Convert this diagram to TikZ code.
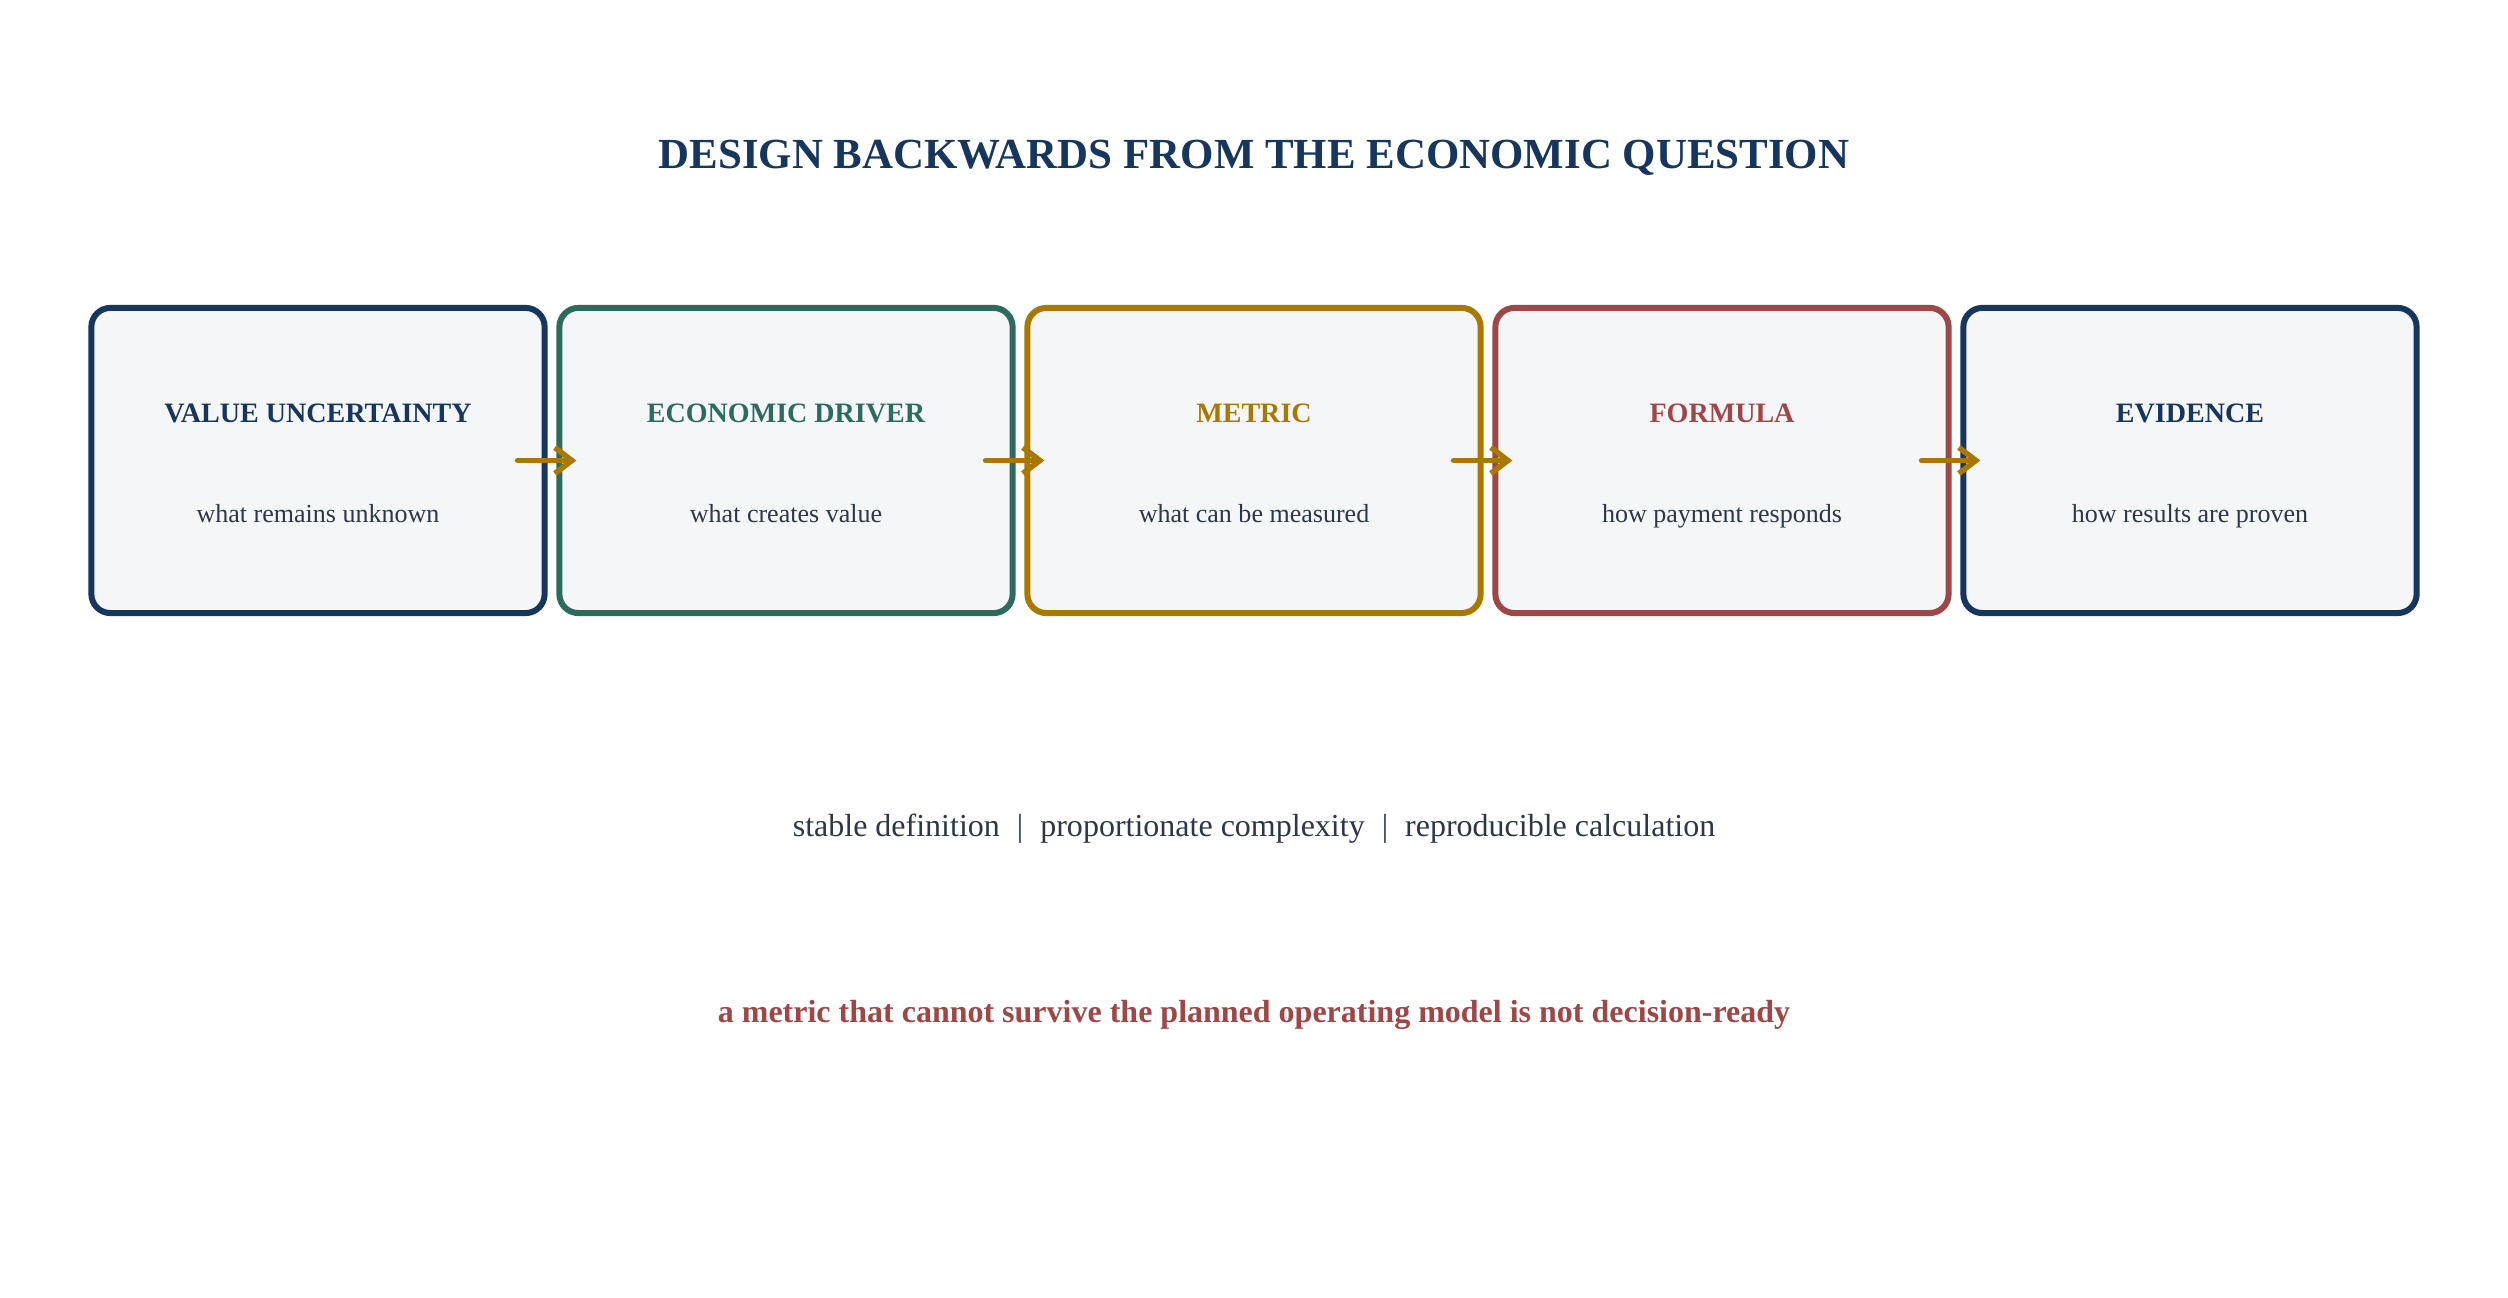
\documentclass[tikz,border=0pt]{standalone}
\usepackage{fontspec}
\setmainfont{Liberation Serif}
\usepackage{tikz}
\usetikzlibrary{arrows.meta}
\definecolor{navy}{HTML}{17365D}
\definecolor{pine}{HTML}{2E6B5F}
\definecolor{gold}{HTML}{A87800}
\definecolor{brick}{HTML}{9E4747}
\definecolor{slate}{HTML}{2D3748}
\definecolor{panel}{HTML}{F4F6F8}

\begin{document}
\begin{tikzpicture}[x=0.01cm,y=-0.01cm,
  stage/.style={draw,rectangle,rounded corners=0.19cm,line width=0.06cm,fill=panel,minimum width=4.53cm,minimum height=3.05cm,inner sep=0pt},
  stagehead/.style={anchor=base,font=\fontsize{7.98pt}{9pt}\selectfont\bfseries},
  stagesub/.style={anchor=base,text=slate,font=\fontsize{7.4pt}{9pt}\selectfont},
  flow/.style={-{Straight Barb[length=0.17cm,width=0.26cm]},draw=gold,line width=0.055cm,line cap=round,shorten <=-0.3cm,shorten >=-0.2cm}]
\fill[white] (0,0) rectangle (2508,1298);
\useasboundingbox (0,0) rectangle (2508,1298);

\node (title) at (1254,169)[anchor=base,text=navy,font=\fontsize{12.2pt}{14pt}\selectfont\bfseries] {DESIGN BACKWARDS FROM THE ECONOMIC QUESTION};

% the five stages
\node (uncert) at (318,460.5)[stage,draw=navy] {};
\node (driver) at (786,460.5)[stage,draw=pine] {};
\node (metric) at (1254,460.5)[stage,draw=gold] {};
\node (formula) at (1722,460.5)[stage,draw=brick] {};
\node (evidence) at (2190,460.5)[stage,draw=navy] {};

\node (uncertH) at (318,423)[stagehead,text=navy] {VALUE UNCERTAINTY};
\node (driverH) at (786,423)[stagehead,text=pine] {ECONOMIC DRIVER};
\node (metricH) at (1254,423)[stagehead,text=gold] {METRIC};
\node (formulaH) at (1722,423)[stagehead,text=brick] {FORMULA};
\node (evidenceH) at (2190,423)[stagehead,text=navy] {EVIDENCE};

\node (uncertS) at (318,523)[stagesub] {what remains unknown};
\node (driverS) at (786,523)[stagesub] {what creates value};
\node (metricS) at (1254,523)[stagesub] {what can be measured};
\node (formulaS) at (1722,523)[stagesub] {how payment responds};
\node (evidenceS) at (2190,523)[stagesub] {how results are proven};

\draw [flow] (uncert) -- (driver);
\draw [flow] (driver) -- (metric);
\draw [flow] (metric) -- (formula);
\draw [flow] (formula) -- (evidence);

% tests and verdict
\node (tests) at (1254,837)[anchor=base,text=slate,font=\fontsize{9.1pt}{11pt}\selectfont] {stable definition\hspace{0.17cm}|\hspace{0.17cm}proportionate complexity\hspace{0.17cm}|\hspace{0.17cm}reproducible calculation};
\node (verdict) at (1254,1023)[anchor=base,text=brick,font=\fontsize{9.1pt}{11pt}\selectfont\bfseries] {a metric that cannot survive the planned operating model is not decision-ready};
\end{tikzpicture}
\end{document}
